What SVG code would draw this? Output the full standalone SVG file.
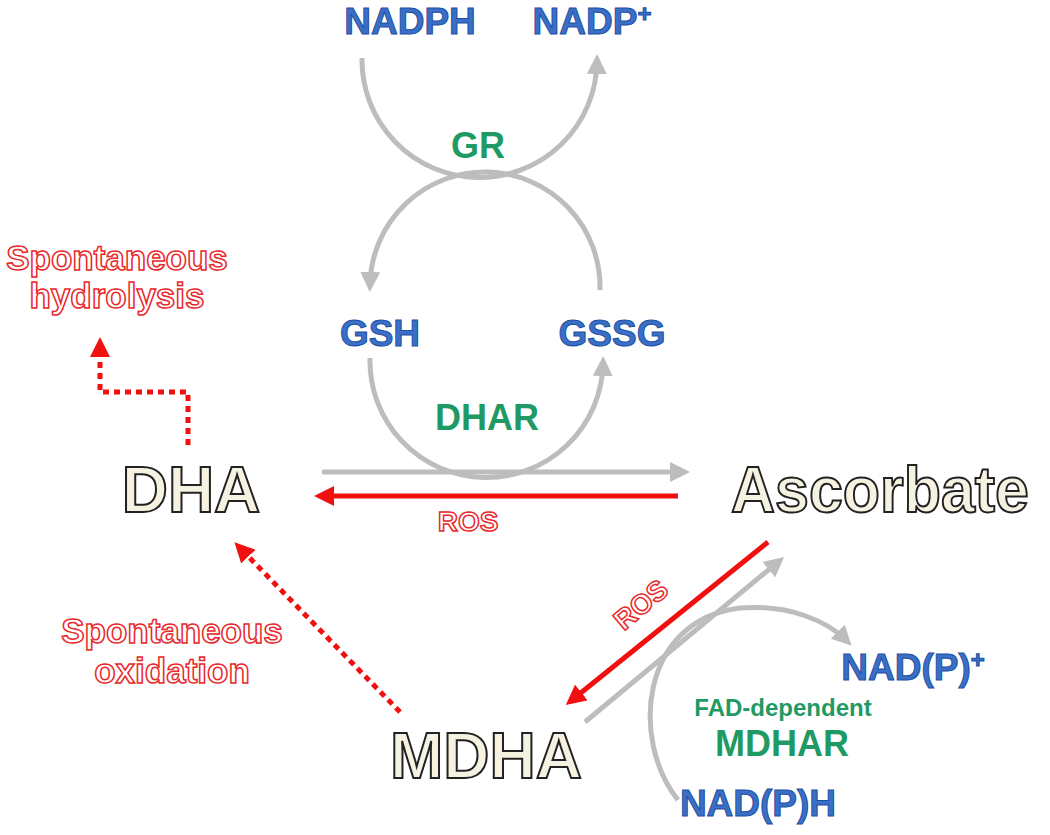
<svg xmlns="http://www.w3.org/2000/svg" width="1050" height="835" viewBox="0 0 1050 835">
<style>
text{font-family:"Liberation Sans",Arial,sans-serif;font-weight:bold;text-anchor:middle}
.b{fill:#3a6fc8;stroke:#1f4f9f;stroke-width:1;font-size:37px}
.g{fill:#1f9a64;font-size:36px}
.big{fill:#f6f2e2;stroke:#222;stroke-width:2;font-size:64px}
.r{fill:#fff;stroke:#e8282a;stroke-width:1.5;font-size:35px}
.gl{fill:none;stroke:#bdbdbd;stroke-width:5}
.rl{fill:none;stroke:#f01010;stroke-width:5}
.rd{fill:none;stroke:#f01010;stroke-width:5;stroke-dasharray:6,5}
</style>
<defs>
<marker id="ag" viewBox="0 0 10 10" refX="6" refY="5" markerWidth="4" markerHeight="4" orient="auto" markerUnits="strokeWidth"><path d="M0,0L10,5L0,10z" fill="#bdbdbd"/></marker>
<marker id="ar" viewBox="0 0 10 10" refX="6" refY="5" markerWidth="4" markerHeight="4" orient="auto" markerUnits="strokeWidth"><path d="M0,0L10,5L0,10z" fill="#f01010"/></marker>
</defs>
<g id="connectors">
<path class="gl" d="M362,58 A117,117 0 0 0 597,62" marker-end="url(#ag)"/>
<path class="gl" d="M600,290 A115,115 0 0 0 370,284" marker-end="url(#ag)"/>
<path class="gl" d="M370,358 A116,116 0 0 0 603,364" marker-end="url(#ag)"/>
<path class="gl" d="M322,472 L682,472" marker-end="url(#ag)"/>
<path class="rl" d="M678,496 L322,496" marker-end="url(#ar)"/>
<path class="rl" d="M768,542 L572,700" marker-end="url(#ar)"/>
<path class="gl" d="M585,722 L778,562" marker-end="url(#ag)"/>
<path class="gl" d="M678,800 C630,740 640,620 740,608 C790,604 828,622 846,640" marker-end="url(#ag)"/>
<path class="rd" d="M188,445 L188,392 L100,392 L100,345" marker-end="url(#ar)"/>
<path class="rd" d="M400,712 L240,548" marker-end="url(#ar)"/>
</g>
<g id="NADPH"><text class="b" x="410" y="34">NADPH</text></g>
<g id="NADP"><text class="b" x="592" y="34">NADP<tspan style="font-size:24px" dy="-12">+</tspan></text></g>
<g id="GR"><text class="g" x="478" y="158">GR</text></g>
<g id="GSH"><text class="b" x="380" y="346">GSH</text></g>
<g id="GSSG"><text class="b" x="612" y="346">GSSG</text></g>
<g id="DHAR"><text class="g" x="487" y="430">DHAR</text></g>
<g id="DHA"><text class="big" x="191" y="512">DHA</text></g>
<g id="Ascorbate"><text class="big" x="880" y="512" textLength="298" lengthAdjust="spacingAndGlyphs">Ascorbate</text></g>
<g id="ROS1"><text class="r" x="468" y="531" style="font-size:28px">ROS</text></g>
<g id="ROS2"><text class="r" x="0" y="0" style="font-size:28px" transform="translate(647,612) rotate(-40)">ROS</text></g>
<g id="MDHA"><text class="big" x="486" y="778">MDHA</text></g>
<g id="hydrolysis"><text class="r" x="117" y="270">Spontaneous</text><text class="r" x="117" y="308">hydrolysis</text></g>
<g id="oxidation"><text class="r" x="172" y="643">Spontaneous</text><text class="r" x="172" y="683">oxidation</text></g>
<g id="NADPplus"><text class="b" x="913" y="680">NAD(P)<tspan style="font-size:24px" dy="-12">+</tspan></text></g>
<g id="MDHAR"><text class="g" x="783" y="716" style="font-size:24px">FAD-dependent</text><text class="g" x="782" y="756">MDHAR</text></g>
<g id="NADPH2"><text class="b" x="758" y="816">NAD(P)H</text></g>
</svg>
